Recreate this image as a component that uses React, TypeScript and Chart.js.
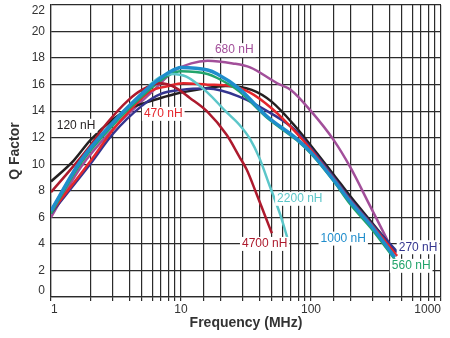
import { useEffect, useRef } from 'react';
import { Chart, registerables } from 'chart.js';
Chart.register(...registerables);

const FONT = '"Liberation Sans", Arial, Helvetica, sans-serif';

// Frequencies (MHz) and Q values per inductance
const f120 = [1, 1.5, 2, 3, 4, 6, 9, 15, 22, 35, 50, 75, 100, 150, 200, 300, 450];
const q120 = [8.7, 10.3, 11.8, 13.4, 14.2, 14.8, 15.3, 15.7, 15.9, 15.6, 14.7, 12.9, 11.4, 9.2, 7.6, 5.5, 3.4];

const f270 = [1, 2, 3, 5, 7, 10, 16, 28, 50, 75, 100, 150, 200, 300, 470];
const q270 = [6.3, 10.0, 12.3, 14.4, 15.3, 15.6, 15.7, 15.1, 13.8, 12.6, 11.2, 9.0, 7.4, 5.4, 3.3];

const f470 = [1, 2, 3, 4, 5.8, 8, 10.4, 16, 24, 34, 50, 75, 100, 150, 200, 300, 460];
const q470 = [6.4, 10.2, 12.6, 14.0, 15.5, 15.9, 16.1, 16.0, 15.9, 15.4, 14.2, 12.5, 11.1, 8.9, 7.3, 5.3, 3.1];

const f560 = [1, 1.7, 3.1, 4.4, 6, 8, 10, 16, 19, 28, 46, 78, 100, 150, 200, 300, 440];
const q560 = [6.3, 10.1, 13.1, 14.6, 15.8, 16.7, 17.0, 16.8, 16.5, 15.5, 13.5, 11.8, 10.8, 8.7, 7.0, 5.0, 2.85];

const f680 = [1, 1.7, 3.1, 4.7, 6.2, 8.7, 12, 16, 25, 34, 55, 70, 100, 150, 200, 280, 420];
const q680 = [6.0, 9.8, 12.8, 14.5, 15.6, 17.0, 17.6, 17.8, 17.6, 17.3, 16.1, 15.6, 14.0, 11.8, 9.8, 7.0, 3.6];

const f1000 = [1, 1.7, 3.1, 4.4, 6, 8, 10, 16, 19, 28, 46, 78, 100, 150, 200, 300, 440];
const q1000 = [6.5, 10.3, 13.3, 14.8, 16.0, 16.9, 17.3, 17.1, 16.8, 15.7, 13.6, 11.9, 10.9, 8.8, 7.2, 5.2, 3.0];

const f2200 = [1, 1.7, 3.1, 4.4, 5.8, 7, 8.5, 11, 16, 22, 28, 34, 40, 48, 58, 67];
const q2200 = [6.5, 10.3, 13.3, 14.8, 16.0, 16.6, 16.8, 16.6, 15.4, 14.0, 13.0, 11.9, 10.5, 8.4, 6.2, 4.2];

const f4700 = [1, 1.5, 2, 2.75, 3.9, 5, 6.9, 9, 11.7, 15.8, 22.5, 28, 32, 38, 44, 50];
const q4700 = [7.9, 9.9, 11.4, 13.2, 14.8, 15.6, 16.1, 15.8, 15.0, 14.0, 12.2, 10.6, 9.6, 7.8, 6.2, 4.8];

const seriesNames = ['120 nH', '270 nH', '470 nH', '560 nH', '680 nH', '1000 nH', '2200 nH', '4700 nH'];
const seriesFreqs = [f120, f270, f470, f560, f680, f1000, f2200, f4700];
const seriesQs = [q120, q270, q470, q560, q680, q1000, q2200, q4700];
const seriesColors = ['#231f20', '#34358f', '#e4262c', '#22a46b', '#a24f9a', '#1f8dcc', '#5cc6c9', '#ad1a2d'];
const seriesWidths = [2.5, 2.5, 2.5, 2.5, 2.5, 3.5, 2.5, 2.5];
const seriesOrder = [6, 5, 4, 3, 7, 0, 2, 1];

// Curve labels placed in data coordinates
const labelFreqs = [1.56, 7.3, 25.7, 82, 44, 177, 666, 590];
const labelQs = [12.9, 13.8, 18.6, 7.4, 4.0, 4.4, 3.75, 2.35];
const labelNames = ['120 nH', '470 nH', '680 nH', '2200 nH', '4700 nH', '1000 nH', '270 nH', '560 nH'];
const labelColors = ['#231f20', '#e4262c', '#a24f9a', '#5cc6c9', '#ad1a2d', '#1f8dcc', '#34358f', '#22a46b'];

const xTickValues = [1, 10, 100, 1000];
const xTickLabels = ['1', '10', '100', '1000'];
const yMin = 0;
const yMax = 22;
const yStep = 2;

const curveLabelPlugin = {
  id: 'curveLabels',
  afterDatasetsDraw(chart: any) {
    const { ctx, scales } = chart;
    ctx.save();
    ctx.font = `12px ${FONT}`;
    ctx.textAlign = 'center';
    ctx.textBaseline = 'middle';
    labelNames.forEach((name, i) => {
      const x = scales.x.getPixelForValue(labelFreqs[i]);
      const y = scales.y.getPixelForValue(labelQs[i]);
      const w = ctx.measureText(name).width;
      ctx.fillStyle = '#ffffff';
      ctx.fillRect(x - w / 2 - 2, y - 7, w + 4, 14);
      ctx.fillStyle = labelColors[i];
      ctx.fillText(name, x, y);
    });
    ctx.restore();
  },
};

// y tick labels drawn "inner": end labels kept inside the plot's height
const yTickLabelPlugin = {
  id: 'yTickLabels',
  afterDraw(chart: any) {
    const { ctx, scales, chartArea } = chart;
    const y = scales.y;
    ctx.save();
    ctx.font = `12px ${FONT}`;
    ctx.fillStyle = '#333333';
    ctx.textAlign = 'right';
    ctx.textBaseline = 'middle';
    const half = 6;
    y.ticks.forEach((t: any) => {
      let py = y.getPixelForValue(t.value);
      py = Math.min(Math.max(py, chartArea.top + half), chartArea.bottom - half);
      ctx.fillText(String(t.value), chartArea.left - 6, py);
    });
    ctx.restore();
  },
};

export default function App() {
  const ref = useRef<HTMLCanvasElement | null>(null);
  useEffect(() => {
    if (!ref.current) return;
    const datasets = seriesNames.map((name, i) => ({
      label: name,
      data: seriesFreqs[i].map((f, j) => ({ x: f, y: seriesQs[i][j] })),
      borderColor: seriesColors[i],
      backgroundColor: seriesColors[i],
      borderWidth: seriesWidths[i],
      pointRadius: 0,
      showLine: true,
      fill: false,
      cubicInterpolationMode: 'monotone' as const,
      order: seriesOrder[i],
    }));
    const chart = new Chart(ref.current, {
      type: 'scatter',
      data: { datasets },
      plugins: [curveLabelPlugin, yTickLabelPlugin],
      options: {
        animation: false,
        responsive: false,
        maintainAspectRatio: false,
        layout: { padding: { left: 0, top: 5, right: 9, bottom: 0 } },
        plugins: { legend: { display: false }, tooltip: { enabled: false } },
        scales: {
          x: {
            type: 'logarithmic',
            min: 1,
            max: 1000,
            grid: { color: '#2b2b2b', lineWidth: 1.2, tickLength: 4, drawTicks: true },
            border: { color: '#2b2b2b', width: 1.2 },
            ticks: {
              autoSkip: false,
              maxRotation: 0,
              align: 'inner',
              padding: 1,
              color: '#333333',
              font: { family: FONT, size: 12 },
              callback: (v: any) => {
                const idx = xTickValues.indexOf(Number(v));
                return idx >= 0 ? xTickLabels[idx] : '';
              },
            },
            title: {
              display: true,
              text: 'Frequency (MHz)',
              color: '#333333',
              font: { family: FONT, size: 14, weight: 'bold' },
              padding: { top: 0, bottom: 6 },
            },
            afterFit: (s: any) => {
              s.height = 41;
              s.paddingLeft = 0;
              s.paddingRight = 0;
            },
          },
          y: {
            min: yMin,
            max: yMax,
            grid: { color: '#2b2b2b', lineWidth: 1.2, drawTicks: false },
            border: { color: '#2b2b2b', width: 1.2 },
            ticks: {
              stepSize: yStep,
              padding: 6,
              color: 'rgba(0,0,0,0)',
              font: { family: FONT, size: 12 },
            },
            title: {
              display: true,
              text: 'Q Factor',
              color: '#333333',
              font: { family: FONT, size: 14, weight: 'bold' },
              padding: { top: 7, bottom: 0 },
            },
            afterFit: (s: any) => {
              s.width = 51;
              s.paddingTop = 0;
              s.paddingBottom = 0;
            },
          },
        },
      },
    } as any);
    return () => chart.destroy();
  }, []);
  return (
    <div style={{ position: 'fixed', left: 0, top: 0, width: 450, height: 338, background: '#fff' }}>
      <canvas ref={ref} width={450} height={338} style={{ width: 450, height: 338 }} />
    </div>
  );
}
